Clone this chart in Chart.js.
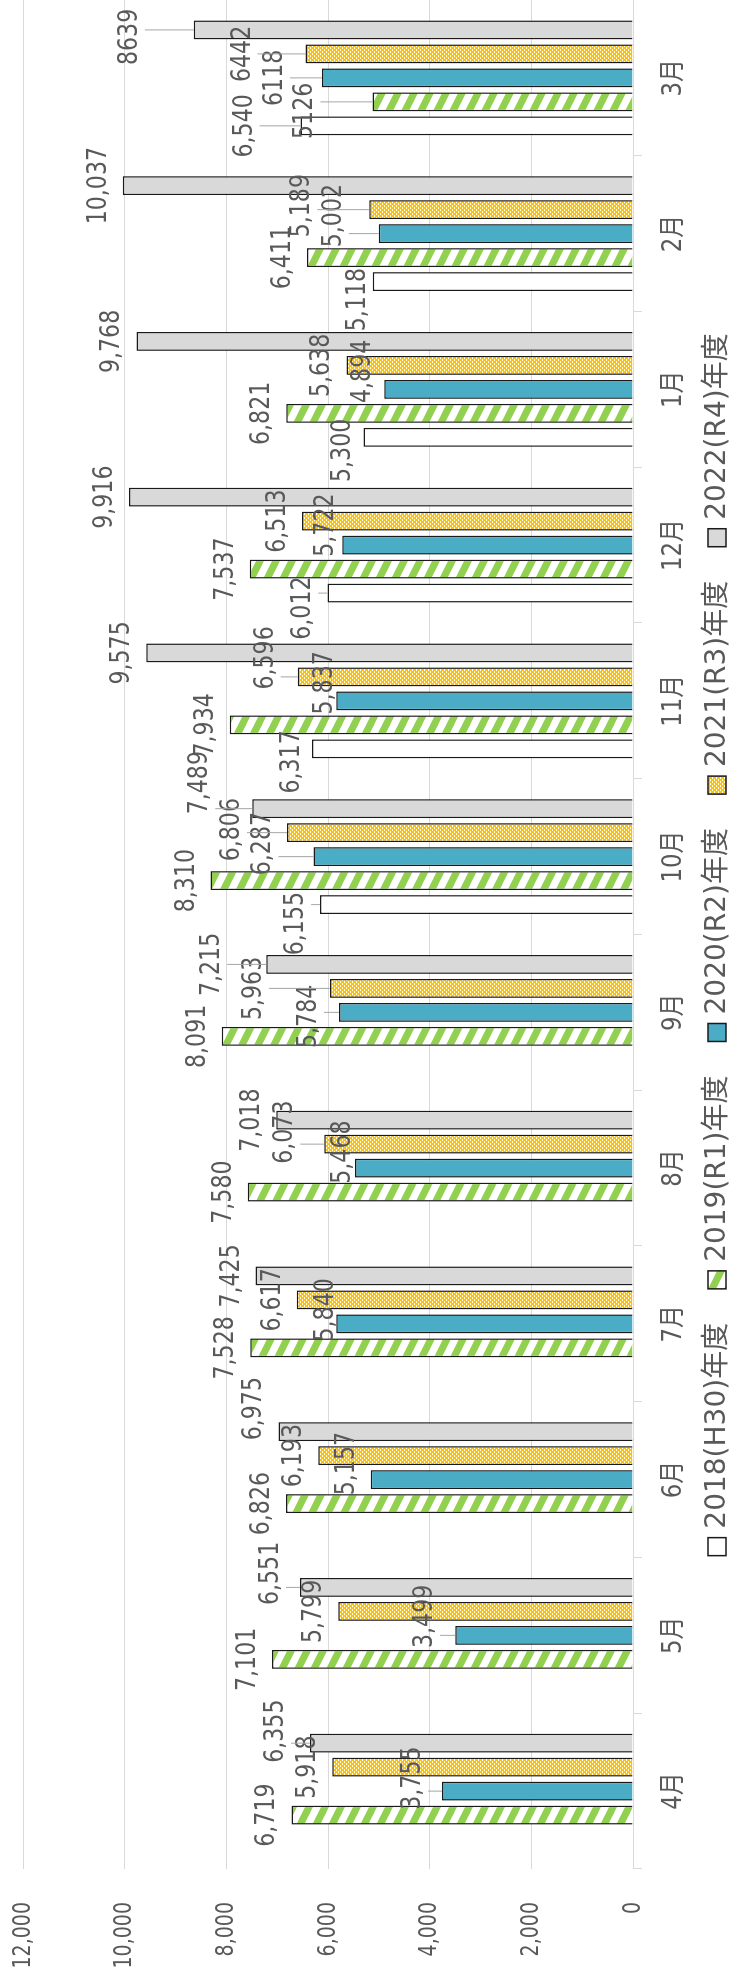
<!DOCTYPE html>
<html>
<head>
<meta charset="utf-8">
<script src="https://cdn.jsdelivr.net/npm/chart.js@4.4.0/dist/chart.umd.min.js"></script>
<style>
html, body { margin: 0; padding: 0; background: #fff; overflow: hidden; width: 755px; height: 1977px; }
#wrap { position: absolute; left: 0; top: 0; width: 1977px; height: 755px; transform-origin: 0 0; transform: translate(0, 1977px) rotate(-90deg); }
</style>
</head>
<body>
<div id="wrap"><canvas id="myChart" width="1977" height="755"></canvas></div>
<script>
const months = ['4月', '5月', '6月', '7月', '8月', '9月', '10月', '11月', '12月', '1月', '2月', '3月'];
const seriesNames = ['2018(H30)年度', '2019(R1)年度', '2020(R2)年度', '2021(R3)年度', '2022(R4)年度'];
const h30 = [null, null, null, null, null, null, 6155, 6317, 6012, 5300, 5118, 6540];
const r1 = [6719, 7101, 6826, 7528, 7580, 8091, 8310, 7934, 7537, 6821, 6411, 5126];
const r2 = [3755, 3499, 5157, 5840, 5468, 5784, 6287, 5837, 5722, 4894, 5002, 6118];
const r3 = [5918, 5799, 6193, 6617, 6073, 5963, 6806, 6596, 6513, 5638, 5189, 6442];
const r4 = [6355, 6551, 6975, 7425, 7018, 7215, 7489, 9575, 9916, 9768, 10037, 8639];
const valueTicks = [0, 2000, 4000, 6000, 8000, 10000, 12000];
// March labels of R1..R4 are shown without thousands separator in the original
const plainLabels = { 1: [11], 2: [11], 3: [11], 4: [11] };

// hand-moved data labels: "dataset-index": [dx, dy, leader line]
const labelNudge = {
  '4-11': [-7, -40, true], '3-11': [0, -39, true], '2-11': [0, -23, true], '1-11': [-9, -43, true], '0-11': [0, -32, true],
  '3-10': [4, -43, true], '2-10': [18, -21, true], '0-10': [-18, 9, false],
  '2-9': [18, 3, false], '0-9': [-13, 3, false],
  '2-8': [20, 8, false], '0-8': [-15, 0, true],
  '3-7': [19, -8, true], '2-7': [18, 13, false], '0-7': [-13, 4, false],
  '4-6': [26, -28, true], '3-6': [3, -31, true], '2-6': [13, -26, true], '0-6': [-19, 0, true],
  '4-5': [0, -30, true], '3-5': [0, -52, true], '2-5': [-4, -6, true],
  '3-4': [12, -15, true], '2-4': [16, 12, false],
  '2-3': [14, 14, false],
  '4-2': [23, 0, false], '2-2': [16, 0, false],
  '4-1': [14, -5, true], '2-1': [19, -6, true],
  '4-0': [12, -10, true], '2-0': [13, -5, true]
};

const textColor = '#595959';
const fontFamily = '"DejaVu Sans", "Noto Sans CJK JP", sans-serif';

function stripePattern() {
  const c = document.createElement('canvas');
  c.width = 32; c.height = 16;
  const g = c.getContext('2d');
  g.fillStyle = '#fff';
  g.fillRect(0, 0, 32, 16);
  g.strokeStyle = '#92D050';
  g.lineWidth = 7;
  for (let k = -1; k <= 1; k++) {
    g.beginPath();
    g.moveTo(-4, -2 + k * 16);
    g.lineTo(36, 18 + k * 16);
    g.stroke();
  }
  return g.createPattern(c, 'repeat');
}

// yellow diagonal lattice with small white diamonds
function latticePattern() {
  const c = document.createElement('canvas');
  c.width = 4; c.height = 4;
  const g = c.getContext('2d');
  g.fillStyle = '#fff';
  g.fillRect(0, 0, 4, 4);
  g.fillStyle = '#FFC000';
  for (let x = 0; x < 4; x++) {
    for (let y = 0; y < 4; y++) {
      if ((x + y) % 4 < 2 || (x - y + 4) % 4 < 2) g.fillRect(x, y, 1, 1);
    }
  }
  return g.createPattern(c, 'repeat');
}

const fills = ['#FFFFFF', stripePattern(), '#4BACC6', latticePattern(), '#D9D9D9'];

function squeezeText(ctx, text, x, y, size, sx, align, baseline) {
  ctx.save();
  ctx.font = size + 'px ' + fontFamily;
  ctx.fillStyle = textColor;
  ctx.textAlign = align;
  ctx.textBaseline = baseline;
  ctx.translate(x, y);
  ctx.scale(sx, 1);
  ctx.fillText(text, 0, 0);
  const w = ctx.measureText(text).width * sx;
  ctx.restore();
  return w;
}

function fmt(v, plain) {
  return plain ? String(v) : v.toLocaleString('en-US');
}

const textPlugin = {
  id: 'texts',
  afterDraw(chart) {
    const ctx = chart.ctx;
    const area = chart.chartArea;
    const xs = chart.scales.x, ys = chart.scales.y;

    valueTicks.forEach(v => {
      squeezeText(ctx, v.toLocaleString('en-US'), area.left - 33, ys.getPixelForValue(v), 25, 0.76, 'right', 'middle');
    });

    months.forEach((m, i) => {
      squeezeText(ctx, m, xs.getPixelForValue(i), area.bottom + 41, 26, 0.88, 'center', 'middle');
    });

    chart.data.datasets.forEach((ds, di) => {
      const meta = chart.getDatasetMeta(di);
      meta.data.forEach((bar, i) => {
        const v = ds.data[i];
        if (v == null) return;
        const plain = (plainLabels[di] || []).includes(i);
        const nudge = labelNudge[di + '-' + i] || [0, 0, false];
        const tx = bar.x + nudge[0], ty = bar.y - 17 + nudge[1];
        const w = squeezeText(ctx, fmt(v, plain), tx, ty, 26, 0.85, 'center', 'alphabetic');
        if (nudge[2]) {
          // leader line from the label box to the bar end
          const left = tx - w / 2 - 4, right = tx + w / 2 + 4, top = ty - 23, bottom = ty + 8;
          const px = Math.min(Math.max(bar.x, left), right);
          const py = Math.min(Math.max(bar.y, top), bottom);
          ctx.save();
          ctx.strokeStyle = '#A6A6A6';
          ctx.lineWidth = 1;
          ctx.beginPath();
          ctx.moveTo(px, py);
          ctx.lineTo(bar.x, bar.y);
          ctx.stroke();
          ctx.restore();
        }
      });
    });

    ctx.save();
    ctx.font = '28px ' + fontFamily;
    const box = 18, gap = 9, pad = 34;
    const widths = seriesNames.map(n => box + gap + ctx.measureText(n).width);
    const total = widths.reduce((a, b) => a + b, 0) + pad * (widths.length - 1);
    let lx = (area.left + area.right) / 2 - 10 - total / 2;
    const ly = 717;
    seriesNames.forEach((n, i) => {
      ctx.fillStyle = fills[i];
      ctx.fillRect(lx, ly - box / 2, box, box);
      ctx.strokeStyle = '#1a1a1a';
      ctx.lineWidth = 1.5;
      ctx.strokeRect(lx, ly - box / 2, box, box);
      ctx.fillStyle = textColor;
      ctx.textAlign = 'left';
      ctx.textBaseline = 'middle';
      ctx.fillText(n, lx + box + gap, ly + 1);
      lx += widths[i] + pad;
    });
    ctx.restore();
  }
};

const datasets = [h30, r1, r2, r3, r4].map((d, i) => ({
  label: seriesNames[i],
  data: d,
  backgroundColor: fills[i],
  borderColor: '#1a1a1a',
  borderWidth: 1.5,
  categoryPercentage: 0.77,
  barPercentage: 0.79
}));

const ctx = document.getElementById('myChart').getContext('2d');
const chart = new Chart(ctx, {
  type: 'bar',
  data: { labels: months, datasets },
  options: {
    responsive: false,
    animation: false,
    devicePixelRatio: 1,
    layout: { padding: { top: 23, right: 0, bottom: 0, left: 0 } },
    plugins: { legend: { display: false }, tooltip: { enabled: false } },
    scales: {
      x: {
        grid: { drawOnChartArea: false, drawTicks: true, tickLength: 9, color: '#D9D9D9', offset: true },
        border: { color: '#D9D9D9' },
        ticks: { display: false },
        afterFit: s => { s.height = 122; }
      },
      y: {
        min: 0,
        max: 12000,
        ticks: { display: false, stepSize: 2000 },
        grid: { color: '#D9D9D9', drawTicks: false },
        border: { display: false },
        afterFit: s => { s.width = 108; }
      }
    }
  },
  plugins: [textPlugin]
});
</script>
</body>
</html>
